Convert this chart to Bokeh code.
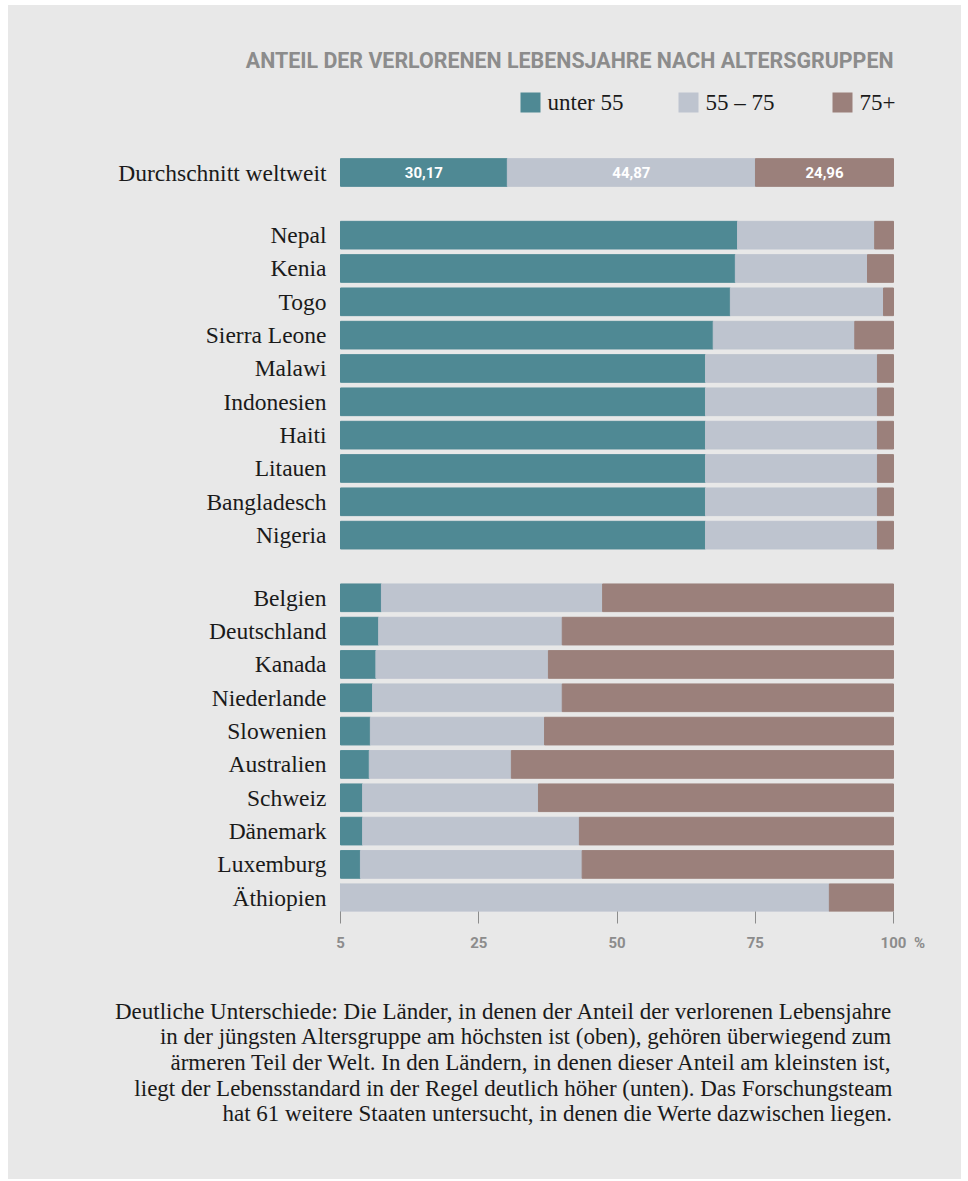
from bokeh.plotting import figure
from bokeh.models import ColumnDataSource, Range1d, FixedTicker, LinearAxis
from bokeh.layouts import column
from bokeh.core.properties import value
from bokeh.embed import file_html
from bokeh.resources import INLINE

# ---------------- data ----------------
title_text = "ANTEIL DER VERLORENEN LEBENSJAHRE NACH ALTERSGRUPPEN"
series_names = ["unter 55", "55 – 75", "75+"]

avg_label = "Durchschnitt weltweit"
avg_values = [30.17, 44.87, 24.96]
avg_value_labels = ["30,17", "44,87", "24,96"]

top_countries = ["Nepal", "Kenia", "Togo", "Sierra Leone", "Malawi",
                 "Indonesien", "Haiti", "Litauen", "Bangladesch", "Nigeria"]
top_u55 = [71.8, 71.4, 70.5, 67.4, 66.0, 66.0, 66.0, 66.0, 66.0, 66.0]
top_mid = [24.8, 23.9, 27.7, 25.6, 31.1, 31.1, 31.1, 31.1, 31.1, 31.1]
top_o75 = [3.4, 4.7, 1.8, 7.0, 2.9, 2.9, 2.9, 2.9, 2.9, 2.9]

bottom_countries = ["Belgien", "Deutschland", "Kanada", "Niederlande", "Slowenien",
                    "Australien", "Schweiz", "Dänemark", "Luxemburg", "Äthiopien"]
bottom_u55 = [7.4, 6.9, 6.4, 5.8, 5.4, 5.2, 4.0, 4.0, 3.6, 0.0]
bottom_mid = [40.0, 33.2, 31.2, 34.3, 31.5, 25.7, 31.8, 39.2, 40.1, 88.4]
bottom_o75 = [52.6, 59.9, 62.4, 59.9, 63.1, 69.1, 64.2, 56.8, 56.3, 11.6]

tick_values = [0, 25, 50, 75, 100]
tick_labels = ["5", "25", "50", "75", "100"]
tick_unit = "%"

caption_lines = [
    "Deutliche Unterschiede: Die Länder, in denen der Anteil der verlorenen Lebensjahre",
    "in der jüngsten Altersgruppe am höchsten ist (oben), gehören überwiegend zum",
    "ärmeren Teil der Welt. In den Ländern, in denen dieser Anteil am kleinsten ist,",
    "liegt der Lebensstandard in der Regel deutlich höher (unten). Das Forschungsteam",
    "hat 61 weitere Staaten untersucht, in denen die Werte dazwischen liegen.",
]

# ---------------- style / layout ----------------
BG = "#e8e8e8"
C_U55 = "#4f8994"
C_MID = "#bec4cf"
C_O75 = "#9b807b"
COLORS = [C_U55, C_MID, C_O75]
GREY_TXT = "#8c8c8c"
INK = "#1a1a1a"
SERIF = "Liberation Serif"
SANS = "Roboto"

W = 953
PX_PER_PCT = 5.53      # pixels per percent
ZERO_X = 332           # pixel of 0 % inside the figure
ROW_PX = 33.33         # pixels per row
FIRST_ROW_PX = 167     # pixel (from top) of the first row centre
GROUP_GAP = 0.88       # extra rows between groups
FRAME_H = 906
AXIS_H = 49
BAR_H = 0.83
UNIT_OFFSET = 4.7      # position of the "%" to the right of the last tick

# row positions
labels = [avg_label] + top_countries + bottom_countries
ypos = [0.0]
ypos += [1 + GROUP_GAP + i for i in range(len(top_countries))]
start_b = ypos[-1] + 1 + GROUP_GAP
ypos += [start_b + i for i in range(len(bottom_countries))]

u55 = [avg_values[0]] + top_u55 + bottom_u55
mid = [avg_values[1]] + top_mid + bottom_mid
o75 = [avg_values[2]] + top_o75 + bottom_o75
right2 = [a + b for a, b in zip(u55, mid)]
right3 = [a + b + c for a, b, c in zip(u55, mid, o75)]

src = ColumnDataSource(dict(y=ypos, label=labels, zero=[0] * len(labels),
                            u55=u55, right2=right2, right3=right3))

def px_to_row(px):
    return (px - FIRST_ROW_PX) / ROW_PX

def px_to_pct(px):
    return (px - ZERO_X) / PX_PER_PCT

p = figure(width=W, height=FRAME_H + AXIS_H, output_backend="svg", toolbar_location=None,
           x_range=Range1d(px_to_pct(0), px_to_pct(W)),
           y_range=Range1d(px_to_row(FRAME_H), px_to_row(0)),
           y_axis_location=None, min_border_left=0, min_border_right=0,
           min_border_top=0, min_border_bottom=AXIS_H)
p.background_fill_color = None
p.border_fill_color = BG
p.outline_line_color = None
p.grid.visible = False

p.hbar(y="y", left="zero", right="u55", height=BAR_H, color=C_U55, source=src)
p.hbar(y="y", left="u55", right="right2", height=BAR_H, color=C_MID, source=src)
p.hbar(y="y", left="right2", right="right3", height=BAR_H, color=C_O75, source=src)

# country labels
p.text(x=-14 / PX_PER_PCT, y="y", text="label", source=src, text_align="right",
       text_baseline="middle", text_font=value(SERIF), text_font_size="23.5px",
       text_color=INK)

# values in the average bar
cum = [0]
for v in avg_values:
    cum.append(cum[-1] + v)
centers = [(cum[i] + cum[i + 1]) / 2 for i in range(3)]
p.text(x=centers, y=[ypos[0]] * 3, text=avg_value_labels, text_align="center",
       text_baseline="middle", text_font=value(SANS), text_font_style="bold",
       text_font_size="15px", text_color="white")

# title
p.text(x=[100], y=[px_to_row(55)], text=[title_text], text_align="right",
       text_baseline="middle", text_font=value(SANS), text_font_style="bold",
       text_font_size="21.4px", text_color=GREY_TXT)

# legend
leg_sq_x = [px_to_pct(522), px_to_pct(680), px_to_pct(834)]
leg_y = px_to_row(97)
p.scatter(x=leg_sq_x, y=[leg_y] * 3, marker="square", size=20, color=COLORS, line_color=None)
p.text(x=[x + 17 / PX_PER_PCT for x in leg_sq_x], y=[leg_y] * 3, text=series_names,
       text_align="left", text_baseline="middle", text_font=value(SERIF),
       text_font_size="23px", text_color=INK)

# axis: tick marks
ax = p.xaxis[0]
ax.ticker = FixedTicker(ticks=tick_values)
ax.axis_line_color = None
ax.major_tick_in = 0
ax.major_tick_out = 12
ax.major_tick_line_color = "#8c8c8c"
ax.minor_tick_line_color = None
ax.major_label_standoff = 0
ax.major_label_text_font_size = "0px"
ax.major_label_overrides = {t: "" for t in tick_values}

# axis: tick labels (with unit)
label_ticks = tick_values + [tick_values[-1] + UNIT_OFFSET]
label_texts = tick_labels + [tick_unit]
ax2 = LinearAxis(ticker=FixedTicker(ticks=label_ticks),
                 major_label_overrides={t: l for t, l in zip(label_ticks, label_texts)},
                 axis_line_color=None, major_tick_line_color=None, minor_tick_line_color=None,
                 major_tick_in=0, major_tick_out=0, major_label_standoff=10,
                 major_label_text_font=SANS, major_label_text_font_style="bold",
                 major_label_text_font_size="15px", major_label_text_color=GREY_TXT)
p.add_layout(ax2, "below")

# caption figure
CAP_H = 219
LINE_PX = 25.7
FIRST_BASE_PX = 50.5
c = figure(width=W, height=CAP_H, output_backend="svg", toolbar_location=None,
           x_range=p.x_range,
           y_range=Range1d((CAP_H - FIRST_BASE_PX) / LINE_PX, -FIRST_BASE_PX / LINE_PX),
           x_axis_location=None, y_axis_location=None,
           min_border_left=0, min_border_right=0, min_border_top=0, min_border_bottom=0)
c.background_fill_color = None
c.border_fill_color = BG
c.outline_line_color = None
c.grid.visible = False
c.text(x=[100 - 1 / PX_PER_PCT] * len(caption_lines), y=list(range(len(caption_lines))),
       text=caption_lines, text_align="right", text_baseline="alphabetic",
       text_font=value(SERIF), text_font_size="23px", text_color=INK)

layout = column(p, c, spacing=0, margin=(5, 0, 0, 8), styles={"background-color": BG})
open("out.html", "w").write(file_html(layout, INLINE))
